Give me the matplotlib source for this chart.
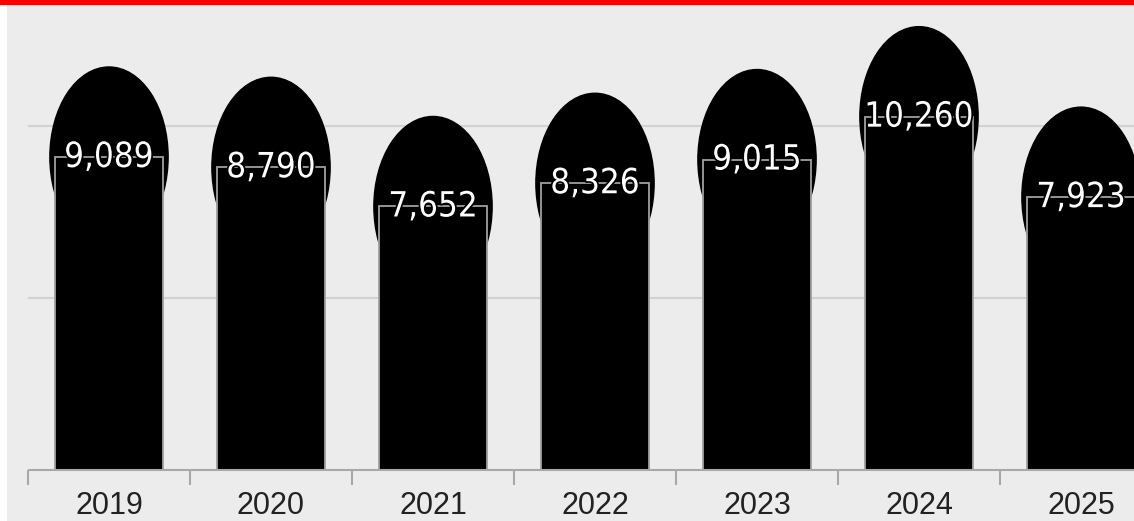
import matplotlib
matplotlib.use('Agg')
import matplotlib.pyplot as plt
import matplotlib.patheffects as pe
from matplotlib.patches import Ellipse, Rectangle
import numpy as np

years = ['2019', '2020', '2021', '2022', '2023', '2024', '2025']
values = [9089, 8790, 7652, 8326, 9015, 10260, 7923]
gridlines = [5000, 10000]

W, H = 1134, 521
fig = plt.figure(figsize=(W / 100, H / 100), dpi=100)
fig.patch.set_facecolor('white')

# axes: grey panel starting 7px from left, 5px below the top
ax = fig.add_axes([7 / W, 0, 1 - 7 / W, (H - 5) / H])
ax.set_facecolor('#ececec')

cat_px = 162.0          # pixels per category
x0_px = 28.0            # left edge of first category
px_per_unit = 172.2 / 5000
ax.set_xlim(-0.5 - (x0_px - 7) / cat_px, -0.5 + (W - x0_px) / cat_px)
ax.set_ylim(-(H - 470) / px_per_unit, (470 - 5) / px_per_unit)

x = np.arange(len(years))
xmax = ax.get_xlim()[1]

for g in gridlines:
    ax.hlines(g, -0.5, xmax, color='#d2d2d2', lw=1.5, zorder=1)
ax.hlines(0, -0.5, xmax, color='#a8a8a8', lw=1.5, zorder=4)
# category boundary ticks
ax.vlines(np.arange(len(years)) - 0.5, -15 / px_per_unit, 0, color='#a8a8a8', lw=1.5, zorder=4)

for xi, v in zip(x, values):
    ax.add_patch(Ellipse((xi, v), 0.73, 180 / px_per_unit, facecolor='black',
                         edgecolor='black', lw=1, zorder=2))

ax.bar(x, values, width=0.67, color='black', edgecolor='#a0a0a0', linewidth=1.3, zorder=3)

for xi, v in zip(x, values):
    ax.text(xi, v, f'{v:,}', ha='center', va='center', color='white',
            fontsize=25, fontstretch='condensed', zorder=5,
            family=['DejaVu Sans'],
            path_effects=[pe.withStroke(linewidth=2.5, foreground='black')])

for xi, y in zip(x, years):
    ax.text(xi, -36 / px_per_unit, y, ha='center', va='center', color='#222222',
            fontsize=22, family=['Liberation Sans', 'DejaVu Sans'], zorder=5)

ax.set_xticks([])
ax.set_yticks([])
for s in ax.spines.values():
    s.set_visible(False)

# red title band at top
fig.patches.append(Rectangle((0, (H - 5) / H), 1, 5 / H, transform=fig.transFigure,
                             facecolor='#ff0000', edgecolor='none', zorder=10))

fig.savefig('out.png', dpi=100)
